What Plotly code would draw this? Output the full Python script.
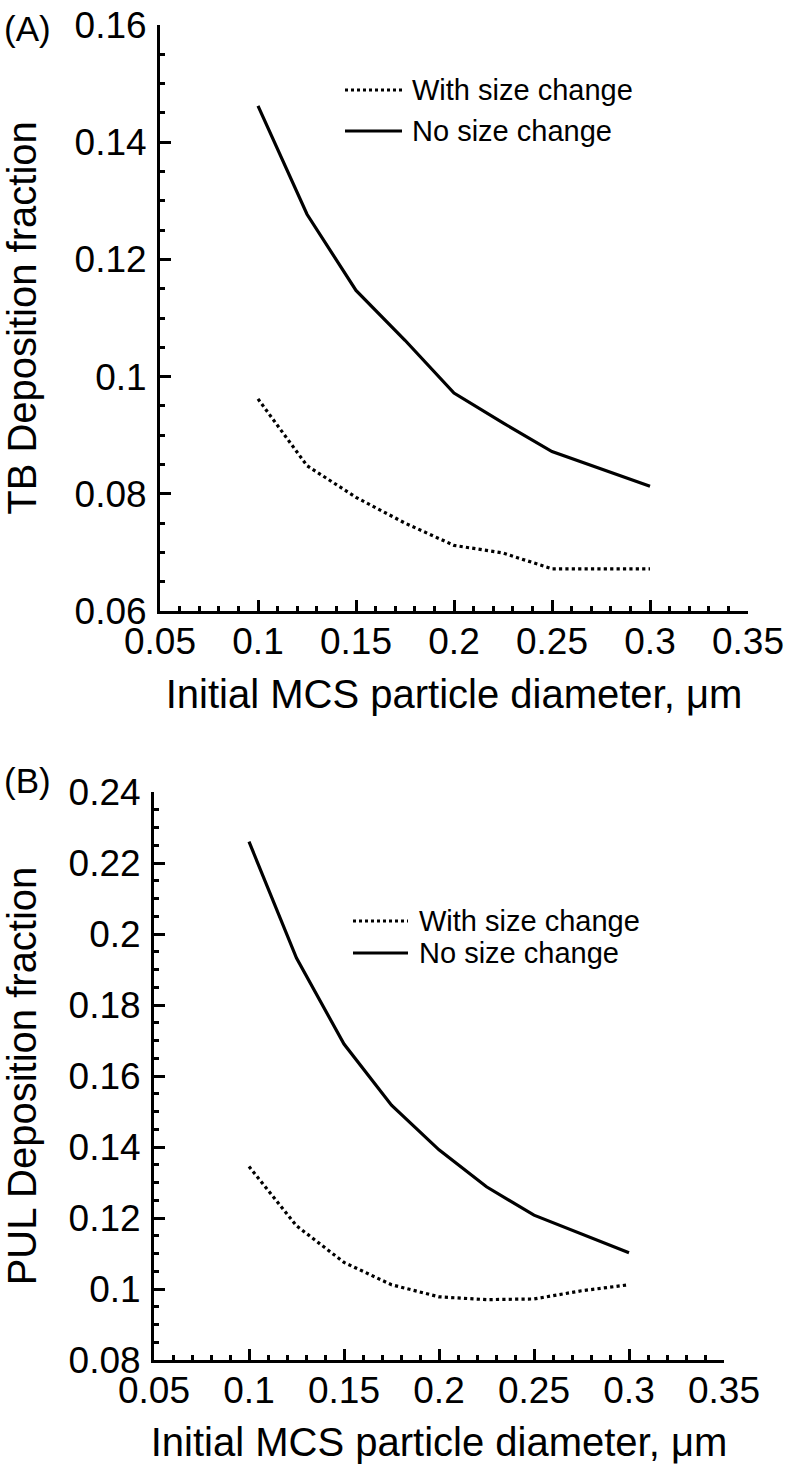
import plotly.graph_objects as go

# initial MCS particle diameter (um)
diam = [0.1, 0.125, 0.15, 0.175, 0.2, 0.225, 0.25, 0.275, 0.3]

# (A) TB deposition fraction
tb_with = [0.0962, 0.0848, 0.0794, 0.0750, 0.0712, 0.0699, 0.0672, 0.0672, 0.0672]
tb_no = [0.1462, 0.1277, 0.1147, 0.1062, 0.0972, 0.0921, 0.0872, 0.0842, 0.0813]

# (B) PUL deposition fraction
pul_with = [0.1345, 0.1178, 0.1075, 0.1012, 0.0978, 0.0970, 0.0972, 0.0995, 0.1012]
pul_no = [0.2260, 0.1932, 0.1690, 0.1518, 0.1392, 0.1288, 0.1208, 0.1155, 0.1102]

x_ticks = [0.05, 0.1, 0.15, 0.2, 0.25, 0.3, 0.35]
x_ticktext = ["0.05", "0.1", "0.15", "0.2", "0.25", "0.3", "0.35"]
tb_ticks = [0.06, 0.08, 0.1, 0.12, 0.14, 0.16]
tb_ticktext = ["0.06", "0.08", "0.1", "0.12", "0.14", "0.16"]
pul_ticks = [0.08, 0.1, 0.12, 0.14, 0.16, 0.18, 0.2, 0.22, 0.24]
pul_ticktext = ["0.08", "0.1", "0.12", "0.14", "0.16", "0.18", "0.2", "0.22", "0.24"]

series_names = ["With size change", "No size change"]

W, H = 787, 1464
FONT = "Liberation Sans, Arial, sans-serif"


def px_x(p):
    return p / W


def px_y(p):
    return (H - p) / H


fig = go.Figure()

fig.add_trace(go.Scatter(x=diam, y=tb_with, mode="lines", name=series_names[0],
                         line=dict(color="black", width=3.2, dash="dot"),
                         xaxis="x", yaxis="y", showlegend=False))
fig.add_trace(go.Scatter(x=diam, y=tb_no, mode="lines", name=series_names[1],
                         line=dict(color="black", width=3.2),
                         xaxis="x", yaxis="y", showlegend=False))
fig.add_trace(go.Scatter(x=diam, y=pul_with, mode="lines", name=series_names[0],
                         line=dict(color="black", width=3.2, dash="dot"),
                         xaxis="x2", yaxis="y2", showlegend=False))
fig.add_trace(go.Scatter(x=diam, y=pul_no, mode="lines", name=series_names[1],
                         line=dict(color="black", width=3.2),
                         xaxis="x2", yaxis="y2", showlegend=False))

axis_style = dict(
    showline=True, linewidth=3, linecolor="black", mirror=False,
    showgrid=False, zeroline=False, automargin=False,
    ticks="inside", ticklen=11, tickwidth=2.5, tickcolor="black",
    tickmode="array",
    tickfont=dict(family=FONT, size=37, color="black"),
)


def minor(d, t0):
    return dict(ticks="inside", ticklen=5, tickwidth=2.5, tickcolor="black",
                dtick=d, tick0=t0, showgrid=False)


x_title = "Initial MCS particle diameter, μm"
TITLE_FONT = dict(family=FONT, size=40, color="black")

fig.update_layout(
    width=W, height=H,
    margin=dict(l=0, r=0, t=0, b=0, autoexpand=False),
    paper_bgcolor="white", plot_bgcolor="white",
    font=dict(family=FONT, color="black"),
    showlegend=False,
    xaxis=dict(axis_style, domain=[px_x(160), px_x(748)], range=[0.05, 0.35],
               anchor="y", tickvals=x_ticks, ticktext=x_ticktext,
               minor=minor(0.01, 0.05), ticklabelstandoff=-4,
               title=dict(text=x_title, font=TITLE_FONT, standoff=19)),
    yaxis=dict(axis_style, domain=[px_y(611), px_y(25)], range=[0.06, 0.16],
               anchor="x", tickvals=tb_ticks, ticktext=tb_ticktext,
               minor=minor(0.005, 0.06), ticklabelstandoff=3,
               title=dict(text="TB Deposition fraction", font=TITLE_FONT, standoff=46)),
    xaxis2=dict(axis_style, domain=[px_x(154), px_x(724)], range=[0.05, 0.35],
                anchor="y2", tickvals=x_ticks, ticktext=x_ticktext,
                minor=minor(0.01, 0.05), ticklabelstandoff=-4,
                title=dict(text=x_title, font=TITLE_FONT, standoff=19)),
    yaxis2=dict(axis_style, domain=[px_y(1360), px_y(792)], range=[0.08, 0.24],
                anchor="x2", tickvals=pul_ticks, ticktext=pul_ticktext,
                minor=minor(0.005, 0.08), ticklabelstandoff=3,
                title=dict(text="PUL Deposition fraction", font=TITLE_FONT, standoff=46)),
)

# panel labels
for label, yc in [("(A)", 28), ("(B)", 780)]:
    fig.add_annotation(text=label, x=px_x(2), y=px_y(yc), xref="paper", yref="paper",
                       xanchor="left", yanchor="middle", showarrow=False,
                       font=dict(family=FONT, size=35, color="black"))

# hand-placed legends (pixel layout: sample x0, x1, text x, row y's)
legend_layout = [
    (345, 402, 410, (90, 131)),
    (353, 408, 417, (921, 953)),
]
for x0, x1, xt, rows in legend_layout:
    for name, dash, yr in zip(series_names, ["dot", "solid"], rows):
        fig.add_shape(type="line", xref="paper", yref="paper",
                      x0=px_x(x0), x1=px_x(x1), y0=px_y(yr), y1=px_y(yr),
                      line=dict(color="black", width=3, dash=dash))
        fig.add_annotation(text=name, x=px_x(xt), y=px_y(yr), xref="paper", yref="paper",
                           xanchor="left", yanchor="middle", showarrow=False,
                           font=dict(family=FONT, size=29, color="black"))

# drop the browser's default body margin so the figure sits at the page origin
fig.write_html("out.html", config={"displayModeBar": False},
               post_script="document.body.style.margin = '0';")
